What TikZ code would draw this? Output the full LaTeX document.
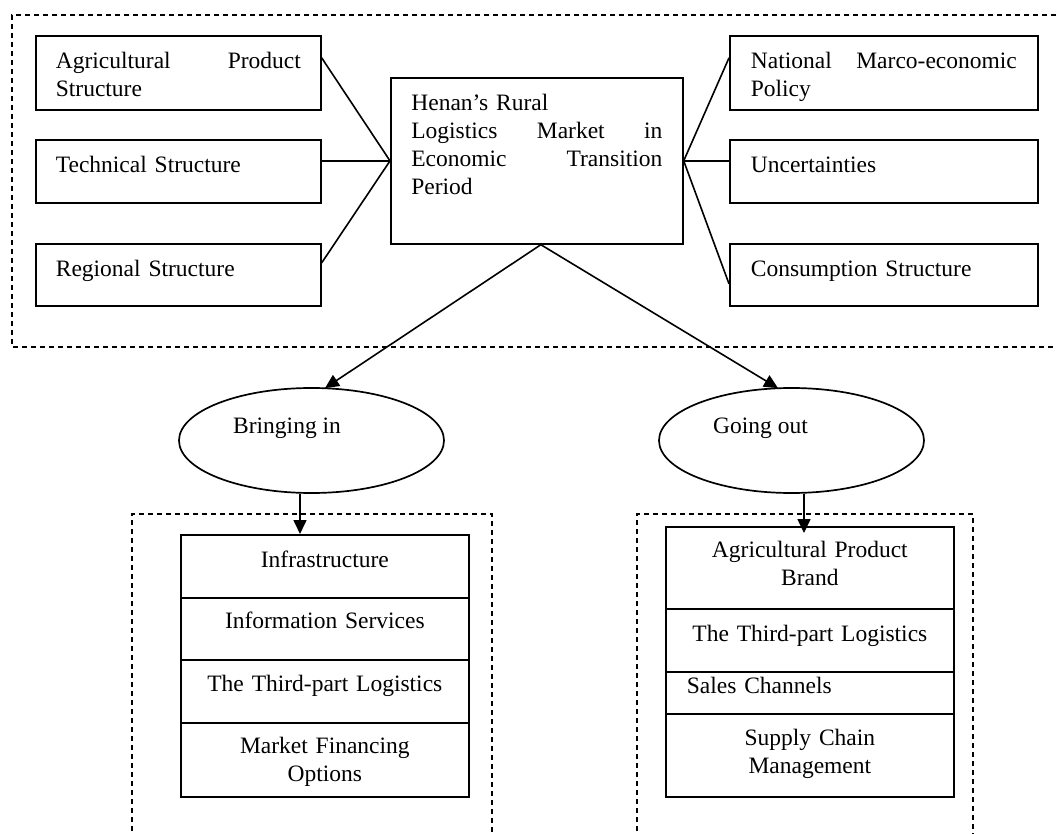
\documentclass[tikz,border=0pt]{standalone}
\usepackage{fontspec}
\setmainfont{Liberation Serif}
\usetikzlibrary{shapes.geometric,arrows.meta,calc}
\begin{document}
\begin{tikzpicture}[x=1pt,y=-1pt,
  every node/.style={font=\fontsize{23.5pt}{28pt}\selectfont},
  frame/.style={draw, line width=1.5pt, dash pattern=on 5pt off 4pt},
  factor/.style={draw, line width=1.7pt, rectangle, anchor=north west,
    inner ysep=0pt, text height=33pt, align=left},
  row/.style={draw, line width=1.7pt, rectangle, anchor=north west,
    inner sep=0pt, text width=288pt, align=center},
  oval/.style={draw, ellipse, line width=1.7pt, minimum width=265pt,
    minimum height=105pt, inner sep=0pt},
  label/.style={anchor=base west, inner sep=0pt},
  link/.style={line width=1.6pt},
  arr/.style={line width=1.6pt, -{Triangle[length=14pt,width=13pt]}}
]
\useasboundingbox (0,0) rectangle (1057,834);

% dashed groupings
\draw[frame] (1065,15) -- (12,15) -- (12,347) -- (1065,347);
\draw[frame] (132,840) -- (132,514) -- (492,514) -- (492,840);
\draw[frame] (637,840) -- (637,514) -- (973,514) -- (973,840);

% central market box
\node[factor, text width=251pt, inner xsep=20.5pt, text depth=133pt] (hub) at (390,77)
  {Henan’s Rural\\Logistics\hfill Market\hfill in\\Economic\hfill Transition\\Period};

% structural factors (left)
\node[factor, text width=245pt, inner xsep=20pt, text depth=41pt] (l1) at (35,35)
  {Agricultural\hfill Product\\Structure};
\node[factor, text width=245pt, inner xsep=20pt, text depth=30pt] (l2) at (35,139)
  {Technical Structure};
\node[factor, text width=245pt, inner xsep=20pt, text depth=29pt] (l3) at (35,243)
  {Regional Structure};

% external factors (right)
\node[factor, text width=266pt, inner xsep=21pt, text depth=41pt] (r1) at (729,35)
  {National\hfill Marco-economic\\Policy};
\node[factor, text width=266pt, inner xsep=21pt, text depth=30pt] (r2) at (729,139)
  {Uncertainties};
\node[factor, text width=266pt, inner xsep=21pt, text depth=29pt] (r3) at (729,243)
  {Consumption Structure};

\draw[link] ([yshift=15pt]l1.east) -- (hub.west);
\draw[link] ([yshift=10.5pt]l2.east) -- (hub.west);
\draw[link] ([yshift=12pt]l3.east) -- (hub.west);
\draw[link] ([yshift=15pt]r1.west) -- (hub.east);
\draw[link] ([yshift=10.5pt]r2.west) -- (hub.east);
\draw[link] ([yshift=-9pt]r3.west) -- (hub.east);

% strategies
\node[oval] (bi) at (311.5,440.5) {};
\node[label] (bitext) at (233,433) {Bringing in};
\node[oval] (go) at (791.5,440.5) {};
\node[label] (gotext) at (713,433) {Going out};

\draw[arr] ([xshift=4pt]hub.south) -- ([xshift=13.5pt,yshift=-1pt]bi.north);
\draw[arr] ([xshift=4pt]hub.south) -- ([xshift=-13.5pt,yshift=-1pt]go.north);

% bringing in
\node[row, text height=33pt, text depth=30pt] (inf) at (180,534) {Infrastructure};
\node[row, text height=31pt, text depth=31pt] (isv) at (180,597) {Information Services};
\node[row, text height=32pt, text depth=31pt] (tpl1) at (180,659)
  {The Third-part Logistics\hspace*{13pt}};
\node[row, text height=31pt, text depth=43pt] (mfo) at (180,722)
  {Market Financing\\Options};

% going out
\node[row, text height=31pt, text depth=51pt] (apb) at (665,526)
  {Agricultural Product\\Brand};
\node[row, text height=33pt, text depth=30pt] (tpl2) at (665,608)
  {The Third-part Logistics\hspace*{11pt}};
\node[row, text height=22pt, text depth=20pt, align=left] (sch) at (665,671)
  {\hspace*{21pt}Sales Channels};
\node[row, text height=32pt, text depth=51pt] (scm) at (665,713)
  {Supply Chain\\Management};

\coordinate (bitail) at ([xshift=-11.5pt]bi.south);
\draw[arr] (bitail) -- (bitail |- inf.north);
\coordinate (gotail) at ([xshift=12.5pt]go.south);
\draw[arr] (gotail) -- ($(gotail |- apb.north)+(0,7)$);
\end{tikzpicture}
\end{document}
